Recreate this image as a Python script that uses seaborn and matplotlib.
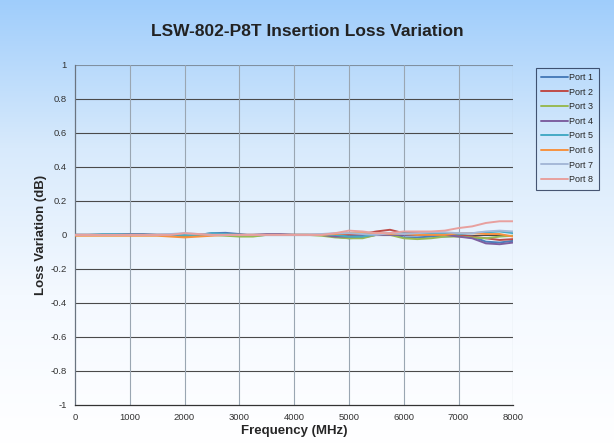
import numpy as np
import pandas as pd
import matplotlib
matplotlib.use('Agg')
import matplotlib.pyplot as plt
import seaborn as sns
from matplotlib.colors import LinearSegmentedColormap

# Frequency points (MHz)
freq = list(range(0, 8001, 250))

# Loss variation (dB) per port
port1 = [0, 0, 0, 0.005, 0.005, 0.005, 0, 0, 0, 0, 0.01, 0.012, 0.005, -0.005, 0, 0, 0,
         0, 0, -0.01, -0.02, -0.015, 0, 0.005, -0.015, -0.015, -0.01, -0.01, -0.005, -0.01, -0.04, -0.045, -0.035]
port2 = [0, 0, 0, 0, 0, 0, 0, 0, -0.01, -0.005, 0, 0, 0, 0, 0, 0, 0,
         0, 0, 0, 0, 0.005, 0.02, 0.03, 0.01, 0.01, 0.005, 0.005, 0, -0.01, -0.02, -0.03, -0.025]
port3 = [0, 0, 0, 0, 0, 0, 0, 0, -0.005, 0, 0, -0.005, -0.01, -0.01, 0, 0, 0,
         0, -0.005, -0.015, -0.02, -0.02, 0, 0, -0.02, -0.025, -0.02, -0.01, -0.01, -0.015, -0.02, -0.01, -0.005]
port4 = [0, 0, 0, 0, 0, 0, 0, 0, 0.005, 0.005, 0, 0, 0, 0, 0.005, 0.005, 0,
         0, 0, -0.01, -0.01, -0.005, 0, 0, 0, 0, 0, 0, -0.01, -0.02, -0.05, -0.055, -0.045]
port5 = [0, 0, 0.005, 0.005, 0, 0, 0, 0, 0, 0, 0.01, 0.005, 0, 0, 0, 0, 0,
         0, 0, 0, -0.01, -0.01, 0.005, 0.01, 0.01, 0.005, 0.01, 0.01, 0.005, 0.01, 0.015, 0.02, 0.01]
port6 = [-0.005, -0.005, -0.005, -0.005, -0.005, -0.005, -0.005, -0.01, -0.015, -0.01, -0.005, 0, 0, 0, 0, 0, 0,
         0, 0, 0.005, 0.01, 0.01, 0.01, 0.005, 0.005, 0, 0, 0, 0.01, 0.01, 0.005, 0.005, -0.01]
port7 = [0, 0, 0, 0, 0, 0, 0, 0.005, 0.01, 0.005, 0, 0, 0, 0, 0, 0, 0,
         0, 0.005, 0.01, 0.01, 0.005, 0, 0.01, 0.005, 0.01, 0.015, 0.015, 0.01, 0.01, 0.02, 0.025, 0.02]
port8 = [0, 0, 0, 0, 0, 0, 0, 0, 0.01, 0.005, 0, 0, 0, 0, 0, 0, 0,
         0, 0, 0.01, 0.025, 0.02, 0.01, 0.01, 0.02, 0.02, 0.02, 0.025, 0.04, 0.05, 0.07, 0.08, 0.08]

port_names = ['Port 1', 'Port 2', 'Port 3', 'Port 4', 'Port 5', 'Port 6', 'Port 7', 'Port 8']
colors = ['#4A7EBB', '#BE4B48', '#98B954', '#7D60A0', '#46AAC5', '#F69240', '#A5B8D8', '#E8A09E']

series = [port1, port2, port3, port4, port5, port6, port7, port8]
rows = []
for name, vals in zip(port_names, series):
    for f, v in zip(freq, vals):
        rows.append({'Frequency': f, 'Loss': v, 'Port': name})
df = pd.DataFrame(rows)

sns.set_style('white')
plt.rcParams['font.family'] = ['Liberation Sans', 'DejaVu Sans']

fig = plt.figure(figsize=(6.14, 4.44), dpi=100)

# figure background gradient (blue top -> white bottom)
bg = fig.add_axes([0, 0, 1, 1], zorder=-10)
bg_cmap = LinearSegmentedColormap.from_list('bg', ['#ffffff', '#f4f9ff', '#d8eafc', '#9fcdfb'])
bg.imshow(np.linspace(0, 1, 256).reshape(-1, 1)[::-1], aspect='auto', cmap=bg_cmap,
          extent=[0, 1, 0, 1])
bg.axis('off')

ax = fig.add_axes([0.122, 0.088, 0.714, 0.766])
ax.set_facecolor('none')

sns.lineplot(data=df, x='Frequency', y='Loss', hue='Port', palette=colors, ax=ax,
             linewidth=1.4, zorder=3)

ax.set_xlim(0, 8000)
ax.set_ylim(-1, 1)
ax.set_xticks(range(0, 8001, 1000))
ax.set_yticks(np.round(np.arange(-1, 1.01, 0.2), 1))
ax.set_yticklabels(['-1', '-0.8', '-0.6', '-0.4', '-0.2', '0', '0.2', '0.4', '0.6', '0.8', '1'])
ax.tick_params(labelsize=6.8, length=0, pad=6, colors='#333333')
for y in np.arange(-0.8, 0.81, 0.2):
    ax.axhline(y, color='#4a4a4a', linewidth=0.8, zorder=1)
ax.axhline(1, color='#8090a0', linewidth=0.8, zorder=1)
for x in range(1000, 8001, 1000):
    ax.axvline(x, color='#9aa6b2', linewidth=0.8, zorder=1)
for s in ['top', 'right']:
    ax.spines[s].set_visible(False)
ax.spines['left'].set_color('#6a7480')
ax.spines['bottom'].set_color('#333333')
for s in ['left', 'bottom']:
    ax.spines[s].set_linewidth(0.9)

ax.set_xlabel('Frequency (MHz)', fontsize=9.5, fontweight='bold', labelpad=2)
ax.set_ylabel('Loss Variation (dB)', fontsize=9.5, fontweight='bold', labelpad=2)
fig.text(0.5, 0.928, 'LSW-802-P8T Insertion Loss Variation', ha='center', va='center',
         fontsize=12.5, fontweight='bold', color='#222222')

leg = ax.legend(loc='upper left', bbox_to_anchor=(1.045, 1.0), fontsize=6.5, frameon=True,
                handlelength=3.0, handletextpad=0.1, labelspacing=0.62, borderpad=0.6,
                borderaxespad=0.3, fancybox=False, title=None)
leg.get_frame().set_edgecolor('#1f2f4f')
leg.get_frame().set_linewidth(0.8)
leg.get_frame().set_facecolor('none')

fig.savefig('out.png', dpi=100)
